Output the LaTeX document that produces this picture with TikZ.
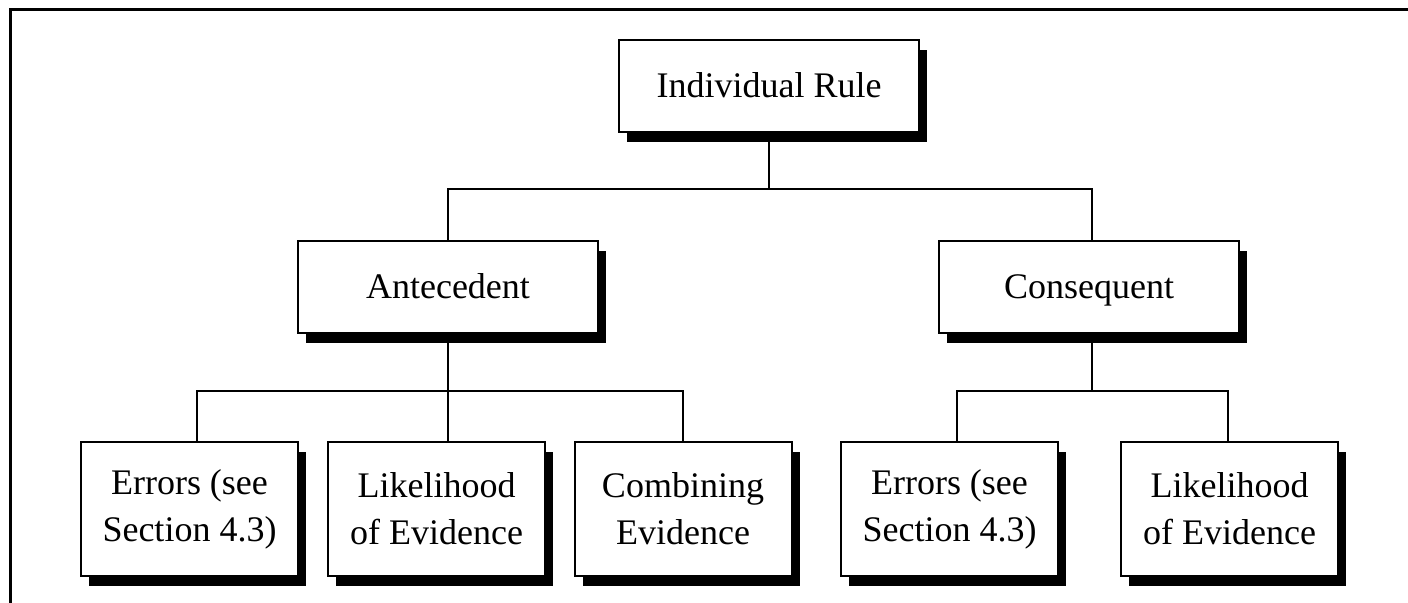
\documentclass[tikz,border=0pt]{standalone}
\usepackage{fontspec}
\setmainfont{Liberation Serif}
\usetikzlibrary{shadows}
\begin{document}
\begin{tikzpicture}[x=0.5pt,y=-0.5pt,
  every node/.style={font=\fontsize{18}{23.5}\selectfont},
  bx/.style={draw=black, line width=1pt, fill=white, align=center, inner sep=0pt,
    drop shadow={shadow xshift=4pt, shadow yshift=-5pt, fill=black, opacity=1}},
  topbox/.style={bx, minimum width=150pt, minimum height=46pt, text height=15pt, text depth=3pt},
  lowbox/.style={bx, minimum width=108.5pt, minimum height=67pt},
  conn/.style={draw=black, line width=1pt}]
\useasboundingbox (0,0) rectangle (1408,603);
\fill[white] (0,0) rectangle (1408,603);
\draw[line width=1.5pt] (10,605) -- (10,10) -- (1410,10);

\node[topbox] (rule) at (769,86) {Individual Rule};
\node[topbox] (ante) at (448,287) {Antecedent};
\node[topbox] (cons) at (1089,287) {Consequent};

\node[lowbox] (err1) at (189.5,509) {Errors (see\\Section 4.3)};
\node[lowbox] (lik1) at (436.5,509) {Likelihood\\of Evidence};
\node[lowbox] (comb) at (683,509) {Combining\\Evidence};
\node[lowbox] (err2) at (949.5,509) {Errors (see\\Section 4.3)};
\node[lowbox] (lik2) at (1229.5,509) {Likelihood\\of Evidence};

\draw[conn] (rule.south) -- ++(0,56) coordinate (j0);
\draw[conn] (j0) -| (ante.north);
\draw[conn] (j0) -| ([xshift=1.5pt]cons.north);

\draw[conn] (ante.south) -- ++(0,57) coordinate (j1);
\draw[conn] (j1) -| ([xshift=3.75pt]err1.north);
\draw[conn] (j1) -- (j1 |- lik1.north);
\draw[conn] (j1) -| (comb.north);

\draw[conn] ([xshift=1.5pt]cons.south) -- ++(0,57) coordinate (j2);
\draw[conn] (j2) -| ([xshift=3.75pt]err2.north);
\draw[conn] (j2) -| ([xshift=-0.75pt]lik2.north);
\end{tikzpicture}
\end{document}
